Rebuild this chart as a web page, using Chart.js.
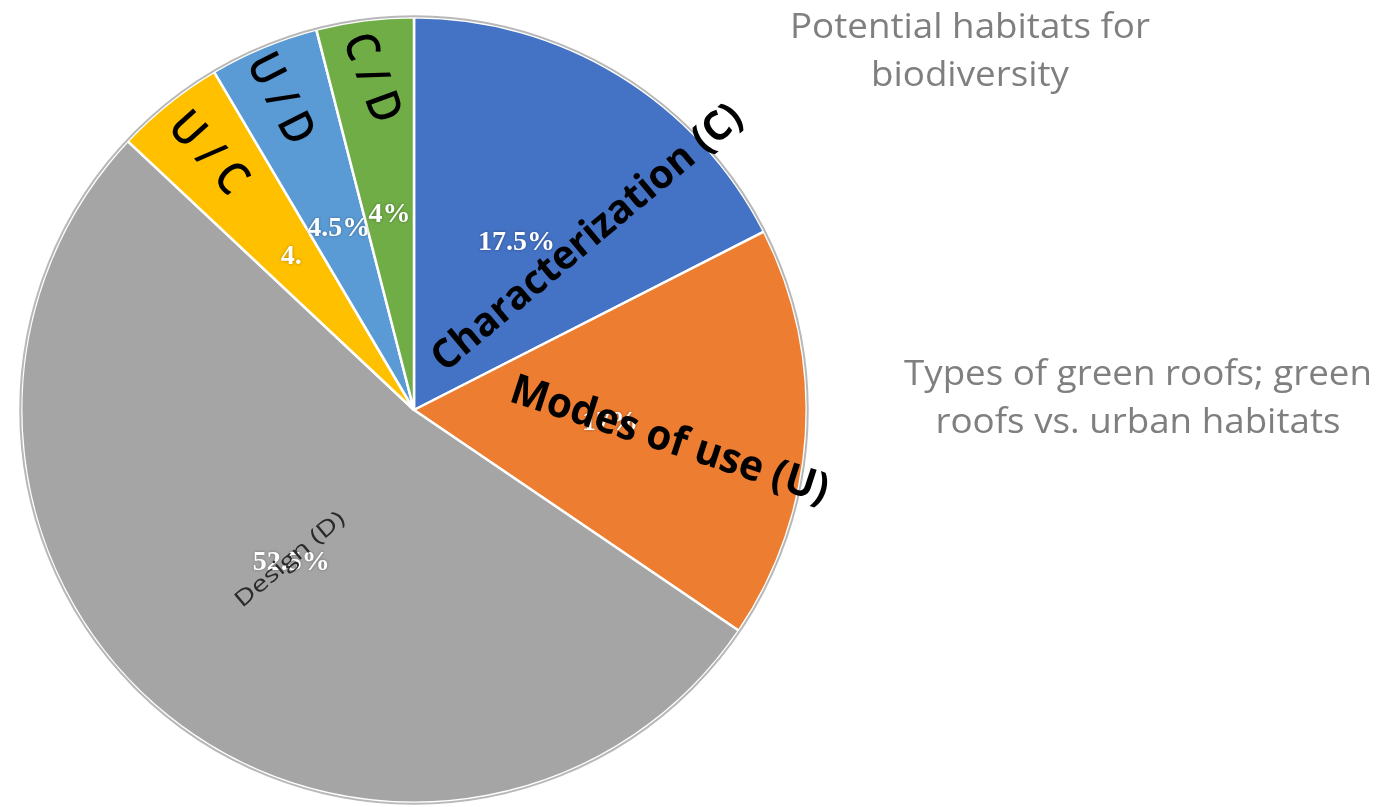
<!DOCTYPE html>
<html>
<head>
<meta charset="utf-8">
<script src="https://cdn.jsdelivr.net/npm/chart.js@4"></script>
<style>
  html, body { margin: 0; padding: 0; background: #fff; overflow: hidden; }
  canvas { display: block; }
</style>
</head>
<body>
<canvas id="pieChart" width="1389" height="807"></canvas>
<script>
// slices, clockwise from 12 o'clock
const categories = ['Characterization (C)', 'Modes of use (U)', 'Design (D)', 'U / C', 'U / D', 'C / D'];
const shares = [17.5, 17, 52.5, 4.5, 4.5, 4];
const valueLabels = ['17.5%', '17%', '52.5%', '4.', '4.5%', '4%'];
const sliceColors = ['#4472C4', '#ED7D31', '#A5A5A5', '#FFC000', '#5B9BD5', '#70AD47'];
const sideNotes = [
    ['Potential habitats for', 'biodiversity'],
    ['Types of green roofs; green', 'roofs vs. urban habitats']
];

// category label placement: polar position (deg from top, fraction of radius), rotation, font
const catStyle = [
    { a: 45.3, r: 0.622, rot: -40, size: 40, w: 392, weight: 'bold', color: '#000' },
    { a: 96.9, r: 0.655, rot: 18, size: 42, w: 332, weight: 'bold', color: '#000' },
    { a: 219.6, r: 0.495, rot: -40, size: 22, w: 136, weight: 'normal', color: '#2a2a2a' },
    { a: 321.1, r: 0.838, rot: 48, size: 46, w: 94, weight: '600', color: '#000' },
    { a: 336.6, r: 0.862, rot: 63, size: 46, w: 96, weight: '600', color: '#000' },
    { a: 352.6, r: 0.852, rot: 70, size: 46, w: 92, weight: '600', color: '#000' }
];

// draw text squeezed/stretched to a given width
function fitText(ctx, text, x, y, rotDeg, font, width, color) {
    ctx.save();
    ctx.font = font;
    const m = ctx.measureText(text).width;
    ctx.translate(x, y);
    ctx.rotate(rotDeg * Math.PI / 180);
    ctx.scale(width / m, 1);
    ctx.fillStyle = color;
    ctx.textAlign = 'center';
    ctx.textBaseline = 'middle';
    ctx.fillText(text, 0, 0);
    ctx.restore();
}

const labelPlugin = {
    id: 'sliceLabels',
    afterDatasetsDraw(chart) {
        const ctx = chart.ctx;
        const arcs = chart.getDatasetMeta(0).data;
        const cx = arcs[0].x, cy = arcs[0].y, R = arcs[0].outerRadius;

        // thin grey rim around the pie
        ctx.save();
        ctx.beginPath();
        ctx.arc(cx, cy, R + 1, 0, Math.PI * 2);
        ctx.strokeStyle = '#b8b8b8';
        ctx.lineWidth = 2;
        ctx.stroke();
        ctx.restore();

        // percentages, white serif at half radius
        arcs.forEach((arc, i) => {
            const mid = (arc.startAngle + arc.endAngle) / 2;
            const x = cx + Math.cos(mid) * R * 0.5;
            const y = cy + Math.sin(mid) * R * 0.5;
            ctx.save();
            ctx.font = 'bold 28px "Liberation Serif", "DejaVu Serif", serif';
            ctx.fillStyle = '#fff';
            ctx.textAlign = 'center';
            ctx.textBaseline = 'middle';
            ctx.shadowColor = 'rgba(0,0,0,0.35)';
            ctx.shadowBlur = 3;
            ctx.fillText(valueLabels[i], x, y);
            ctx.restore();
        });

        // category names
        categories.forEach((name, i) => {
            const s = catStyle[i];
            const t = s.a * Math.PI / 180;
            const x = cx + Math.sin(t) * R * s.r;
            const y = cy - Math.cos(t) * R * s.r;
            fitText(ctx, name, x, y, s.rot, `${s.weight} ${s.size}px "Open Sans", sans-serif`, s.w, s.color);
        });

        // grey notes on the right
        ctx.save();
        ctx.fillStyle = '#7f7f7f';
        ctx.textAlign = 'center';
        ctx.textBaseline = 'alphabetic';
        const notePos = [
            { x: 970, y: [38, 86], w: [360, 198] },
            { x: 1138, y: [385, 433], w: [468, 405] }
        ];
        sideNotes.forEach((lines, k) => {
            lines.forEach((line, j) => {
                ctx.save();
                ctx.font = '34px "Open Sans", sans-serif';
                const m = ctx.measureText(line).width;
                ctx.translate(notePos[k].x, notePos[k].y[j]);
                ctx.scale(notePos[k].w[j] / m, 1);
                ctx.fillText(line, 0, 0);
                ctx.restore();
            });
        });
        ctx.restore();
    }
};

new Chart(document.getElementById('pieChart'), {
    type: 'pie',
    data: {
        labels: categories,
        datasets: [{
            data: shares,
            backgroundColor: sliceColors,
            borderColor: '#ffffff',
            borderWidth: 2.5
        }]
    },
    options: {
        responsive: false,
        animation: false,
        layout: { padding: { left: 20, top: 16, right: 581, bottom: 3 } },
        plugins: {
            legend: { display: false },
            tooltip: { enabled: false }
        }
    },
    plugins: [labelPlugin]
});
</script>
</body>
</html>
